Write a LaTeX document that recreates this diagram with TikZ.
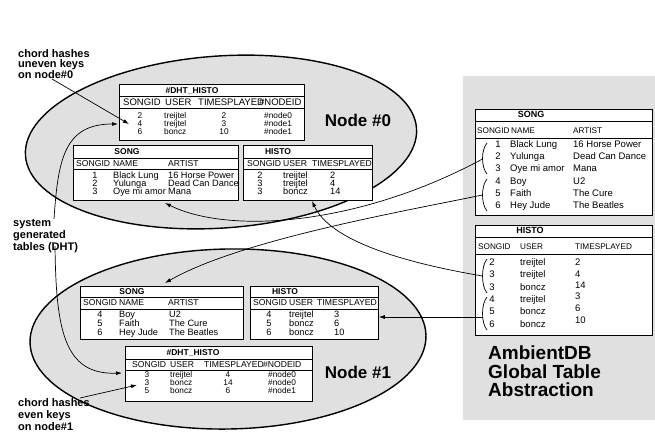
\documentclass[tikz,border=0pt]{standalone}
\usepackage{fontspec}
\setmainfont{Liberation Sans}
\usetikzlibrary{arrows.meta,shapes.geometric}

\tikzset{
  nodeell/.style={ellipse, draw, line width=1.4pt, fill=black!12, inner sep=0},
  tbox/.style={draw, fill=white, line width=0.8pt, inner sep=0, anchor=north west},
  rule/.style={line width=0.8pt},
  ttl/.style={font=\bfseries\fontsize{8.5}{9}\selectfont, inner sep=0, anchor=mid},
  hdr/.style={font=\fontsize{8.6}{9}\selectfont, inner sep=0, anchor=mid west},
  hdrb/.style={font=\fontsize{9.5}{9}\selectfont, inner sep=0, anchor=mid west},
  datl/.style={font=\fontsize{9.2}{9}\selectfont, inner sep=0, anchor=mid west},
  datc/.style={font=\fontsize{9.2}{9}\selectfont, inner sep=0, anchor=mid},
  ddatl/.style={font=\fontsize{8.3}{9}\selectfont, inner sep=0, anchor=mid west},
  ddatc/.style={font=\fontsize{8.3}{9}\selectfont, inner sep=0, anchor=mid},
  ghdr/.style={font=\fontsize{8.2}{9}\selectfont, inner sep=0, anchor=mid west},
  gdat/.style={font=\fontsize{9.5}{9}\selectfont, inner sep=0, anchor=mid west},
  gdatc/.style={font=\fontsize{9.5}{9}\selectfont, inner sep=0, anchor=mid},
  gttl/.style={font=\bfseries\fontsize{9}{9}\selectfont, inner sep=0, anchor=mid},
  lbl/.style={font=\bfseries\fontsize{11}{#1}\selectfont, align=left, inner sep=0, anchor=north west},
  big/.style={font=\bfseries\fontsize{17}{18}\selectfont, inner sep=0},
  huge/.style={font=\bfseries\fontsize{19}{18.5}\selectfont, align=left, inner sep=0, anchor=north west},
  conn/.style={line width=0.7pt, -{Latex[length=6pt,width=4pt]}},
  thin/.style={line width=0.7pt},
}

% table frame: name, x1, y1, x2, y2, title rule, header rule
\newcommand\mktable[7]{%
  \node[tbox, minimum width={(#4-#2)*1pt}, minimum height={(#5-#3)*1pt}] (#1) at (#2,#3) {};
  \draw[rule] (#2,#6) -- (#4,#6);
  \draw[rule] (#2,#7) -- (#4,#7);
}

\begin{document}
\begin{tikzpicture}[x=1pt,y=-1pt]
\useasboundingbox (0,0) rectangle (655,434);

% global abstraction panel
\fill[black!12] (463,76) rectangle (655,420);

% the two peers
\node[nodeell, minimum width=392pt, minimum height=172pt, rotate=4] (n0) at (221,142) {};
\node[nodeell, minimum width=396pt, minimum height=180pt, rotate=1] (n1) at (228,339) {};

% ---------- Node #0 : #DHT_HISTO ----------
\mktable{d0}{119}{84}{304}{140}{96}{108}
\node[ttl] (d0t) at (192,90.5) {\#DHT\_HISTO};
\node[hdrb] (d0h1) at (123,102.5) {SONGID};
\node[hdrb] (d0h2) at (165,102.5) {USER};
\node[hdrb] (d0h3) at (198,102.5) {TIMESPLAYED};
\node[hdrb] (d0h4) at (259,102.5) {\#NODEID};
\foreach \yy/\a/\b/\c/\d [count=\i] in {116/2/treijtel/2/\#node0, 124/4/treijtel/3/\#node1, 132/6/boncz/10/\#node1}{
  \node[ddatc] (d0i\i) at (140,\yy) {\a};
  \node[ddatl] (d0u\i) at (164,\yy) {\b};
  \node[ddatc] (d0p\i) at (224,\yy) {\c};
  \node[ddatl] (d0n\i) at (264,\yy) {\d};
}

% ---------- Node #0 : SONG ----------
\mktable{s0}{73}{145}{238}{200}{158}{169}
\node[ttl] (s0t) at (127,151.5) {SONG};
\node[hdr] (s0h1) at (76,163.5) {SONGID};
\node[hdr] (s0h2) at (113,163.5) {NAME};
\node[hdr] (s0h3) at (168,163.5) {ARTIST};
\foreach \yy/\a/\b/\c [count=\i] in {176/1/Black Lung/16 Horse Power, 184/2/Yulunga/Dead Can Dance, 192/3/Oye mi amor/Mana}{
  \node[datc] (s0i\i) at (95,\yy) {\a};
  \node[datl] (s0n\i) at (113,\yy) {\b};
  \node[datl] (s0r\i) at (168,\yy) {\c};
}

% ---------- Node #0 : HISTO ----------
\mktable{h0}{243}{145}{372}{200}{158}{169}
\node[ttl] (h0t) at (278,151.5) {HISTO};
\node[hdr] (h0h1) at (247,163.5) {SONGID};
\node[hdr] (h0h2) at (283,163.5) {USER};
\node[hdr] (h0h3) at (312,163.5) {TIMESPLAYED};
\foreach \yy/\a/\b/\c [count=\i] in {176/2/treijtel/2, 184/3/treijtel/4, 192/3/boncz/14}{
  \node[datc] (h0i\i) at (260,\yy) {\a};
  \node[datl] (h0u\i) at (283,\yy) {\b};
  \node[datl] (h0p\i) at (330,\yy) {\c};
}

\node[big] (lab0) at (358,120) {Node \#0};

% ---------- Node #1 : SONG ----------
\mktable{s1}{80}{286}{243}{339}{297}{309}
\node[ttl] (s1t) at (132,291.5) {SONG};
\node[hdr] (s1h1) at (83,303) {SONGID};
\node[hdr] (s1h2) at (119,303) {NAME};
\node[hdr] (s1h3) at (168,303) {ARTIST};
\foreach \yy/\a/\b/\c [count=\i] in {315/4/Boy/U2, 324/5/Faith/The Cure, 333/6/Hey Jude/The Beatles}{
  \node[datc] (s1i\i) at (100,\yy) {\a};
  \node[datl] (s1n\i) at (119,\yy) {\b};
  \node[datl] (s1r\i) at (169,\yy) {\c};
}

% ---------- Node #1 : HISTO ----------
\mktable{h1}{250}{286}{378}{339}{297}{309}
\node[ttl] (h1t) at (285,291.5) {HISTO};
\node[hdr] (h1h1) at (253,303) {SONGID};
\node[hdr] (h1h2) at (289,303) {USER};
\node[hdr] (h1h3) at (317,303) {TIMESPLAYED};
\foreach \yy/\a/\b/\c [count=\i] in {315/4/treijtel/3, 324/5/boncz/6, 333/6/boncz/10}{
  \node[datc] (h1i\i) at (269,\yy) {\a};
  \node[datl] (h1u\i) at (289,\yy) {\b};
  \node[datl] (h1p\i) at (334,\yy) {\c};
}

% ---------- Node #1 : #DHT_HISTO ----------
\mktable{d1}{125}{346}{312}{401}{359}{370}
\node[ttl] (d1t) at (193,352.5) {\#DHT\_HISTO};
\node[hdr] (d1h1) at (132,364.5) {SONGID};
\node[hdr] (d1h2) at (170,364.5) {USER};
\node[hdr] (d1h3) at (204,364.5) {TIMESPLAYED};
\node[hdr] (d1h4) at (263,364.5) {\#NODEID};
\foreach \yy/\a/\b/\c/\d [count=\i] in {375/3/treijtel/4/\#node0, 383/3/boncz/14/\#node0, 391/5/boncz/6/\#node1}{
  \node[ddatc] (d1i\i) at (147,\yy) {\a};
  \node[ddatl] (d1u\i) at (170,\yy) {\b};
  \node[ddatc] (d1p\i) at (228,\yy) {\c};
  \node[ddatl] (d1n\i) at (268,\yy) {\d};
}

\node[big] (lab1) at (358,372) {Node \#1};

% ---------- global SONG ----------
\mktable{gs}{475}{109}{652}{215}{121}{138}
\node[gttl] (gst) at (531,115) {SONG};
\node[ghdr] (gsh1) at (477,131) {SONGID};
\node[ghdr] (gsh2) at (511,131) {NAME};
\node[ghdr] (gsh3) at (573,131) {ARTIST};
\foreach \yy/\a/\b/\c [count=\i] in {145/1/Black Lung/16 Horse Power, 157/2/Yulunga/Dead Can Dance, 169/3/Oye mi amor/Mana, 182/4/Boy/U2, 194/5/Faith/The Cure, 206/6/Hey Jude/The Beatles}{
  \node[gdatc] (gsi\i) at (498,\yy) {\a};
  \node[gdat] (gsn\i) at (510,\yy) {\b};
  \node[gdat] (gsr\i) at (573,\yy) {\c};
}

% ---------- global HISTO ----------
\mktable{gh}{475}{225}{652}{335}{237}{254}
\node[gttl] (ght) at (530,231) {HISTO};
\node[ghdr] (ghh1) at (478,247) {SONGID};
\node[ghdr] (ghh2) at (520,247) {USER};
\node[ghdr] (ghh3) at (575,247) {TIMESPLAYED};
\foreach \yy/\a/\b/\pp/\c [count=\i] in {263/2/treijtel/263/2, 275/3/treijtel/275/4, 288/3/boncz/286/14, 300/4/treijtel/297/3, 312/5/boncz/309/6, 325/6/boncz/321/10}{
  \node[gdatc] (ghi\i) at (492,\yy) {\a};
  \node[gdat] (ghu\i) at (520,\yy) {\b};
  \node[gdat] (ghp\i) at (575,\pp) {\c};
}

% row-group brackets in the global tables
\draw[thin] (487,143) .. controls (481,150) and (481,167) .. (487,174);
\draw[thin] (487,179) .. controls (481,186) and (481,204) .. (487,211);
\draw[thin] (487,259) .. controls (481,266) and (481,286) .. (487,293);
\draw[thin] (487,297) .. controls (481,304) and (481,323) .. (487,330);
\coordinate (b1) at (482.5,159);
\coordinate (b2) at (482.5,195);
\coordinate (b3) at (482.5,276);
\coordinate (b4) at (482.5,317);

\node[huge] (amb) at (488,346) {AmbientDB\\Global Table\\Abstraction};

% side labels
\node[lbl=10] (lblA) at (18,49) {chord hashes\\uneven keys\\on node\#0};
\node[lbl=12] (lblB) at (13,219) {system\\generated\\tables (DHT)};
\node[lbl=12.3] (lblC) at (18,398) {chord hashes\\even keys\\on node\#1};

% connector end points
\coordinate (eA) at (52,79);
\coordinate (eAt) at (129,124);
\coordinate (eC) at (80,398);
\coordinate (eCt) at (137,385);
\coordinate (gB) at (54,219);
\coordinate (gBt) at (118,124);
\coordinate (hB) at (55,246);
\coordinate (hBt) at (122,373);
\coordinate (s0b) at (165,203);
\coordinate (s1a) at (165,283);
\coordinate (h0b) at (312,201);

% global table rows -> fragments on the peers
\draw[conn] (b1) .. controls (360,225) and (230,235) .. (s0b);
\draw[conn] (b2) .. controls (400,212) and (240,240) .. (s1a);
\draw[conn] (b3) .. controls (400,262) and (330,240) .. (h0b);
\draw[conn] (b4) -- (h1.east |- b4);

% label pointers
\draw[conn] (eA) -- (eAt);
\draw[conn] (eC) -- (eCt);
\draw[conn] (gB) .. controls (58,160) and (64,124) .. (gBt);
\draw[conn] (hB) .. controls (56,330) and (64,375) .. (hBt);
\end{tikzpicture}
\end{document}
